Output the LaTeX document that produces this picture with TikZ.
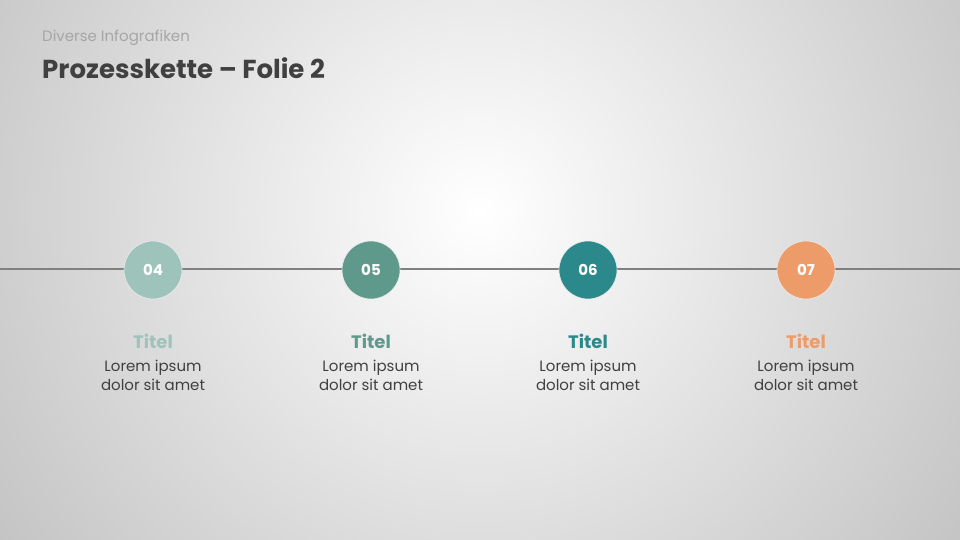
\documentclass[tikz,border=0pt]{standalone}
\usepackage{fontspec}
\setmainfont{Poppins}
\usetikzlibrary{positioning}
\definecolor{cA}{HTML}{9DC3BA}
\definecolor{cB}{HTML}{5F998B}
\definecolor{cC}{HTML}{2B898C}
\definecolor{cD}{HTML}{EC9B69}
\definecolor{txt}{HTML}{404040}
\definecolor{sub}{HTML}{A6A6A6}
\definecolor{ln}{HTML}{808080}
\begin{document}
\begin{tikzpicture}[x=1pt,y=-1pt,
  dot/.style={circle,minimum size=58pt,inner sep=0pt,draw=white!85!gray,line width=0.6pt,text=white,font=\fontsize{15}{18}\selectfont\bfseries},
  ttl/.style={font=\fontsize{18}{20}\selectfont\bfseries,inner sep=0pt},
  body/.style={font=\fontsize{15}{19}\selectfont,text=txt,inner sep=0pt,anchor=base}]
\useasboundingbox (0,0) rectangle (960,540);
\begin{scope}
\clip (0,0) rectangle (960,540);
\shade[inner color=white,outer color=black!34] (480,210) circle (860);
\end{scope}
\node[anchor=base west,text=sub,font=\fontsize{15}{18}\selectfont,inner sep=0pt] (sup) at (42,42) {Diverse Infografiken};
\node[anchor=base west,text=txt,font=\fontsize{26}{30}\selectfont\bfseries,inner sep=0pt] (head) at (42,79) {Prozesskette – Folie 2};
\coordinate (L) at (0,269);
\coordinate (R) at (960,269);
\draw[ln,line width=1.8pt] (L) -- (R);
\foreach \x/\c/\n [count=\i] in {153/cA/04,371/cB/05,588/cC/06,806/cD/07}{
  \node[dot,fill=\c] (d\i) at (\x,270) {\n};
  \node[ttl,text=\c,anchor=base] (t\i) at (\x,348) {Titel};
  \node[body] (b\i) at (\x,371) {Lorem ipsum};
  \node[body] (c\i) at (\x,390) {dolor sit amet};
}
\end{tikzpicture}
\end{document}
